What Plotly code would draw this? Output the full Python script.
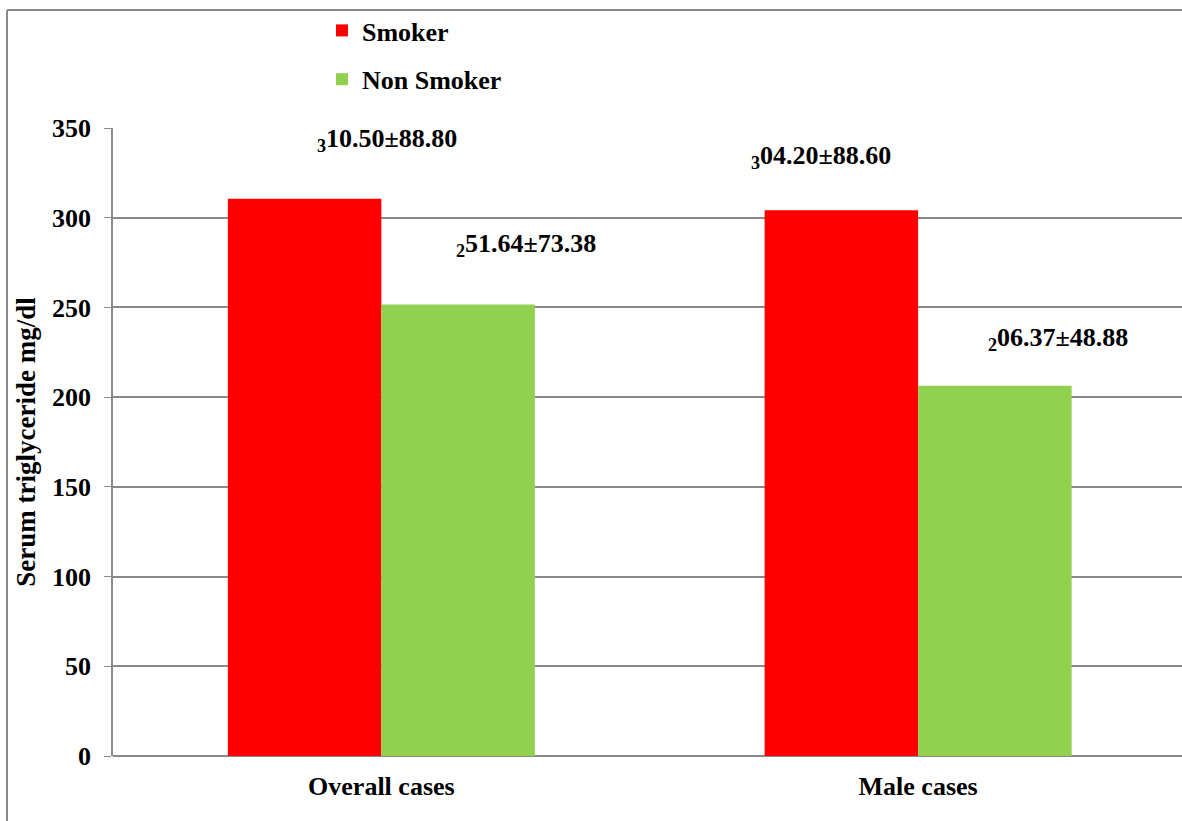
import plotly.graph_objects as go

# Serum triglyceride (mg/dl): mean and SD by smoking status
categories = ["Overall cases", "Male cases"]
smoker_mean = [310.50, 304.20]
smoker_sd = [88.80, 88.60]
nonsmoker_mean = [251.64, 206.37]
nonsmoker_sd = [73.38, 48.88]
y_ticks = [0, 50, 100, 150, 200, 250, 300, 350]

FONT = "Liberation Serif, Times New Roman, serif"
GRID = "#8a8a8a"
FS = 26

W, H = 1182, 821
ML, MR, MT, MB = 113, 0, 128, 65
PW, PH = W - ML - MR, H - MT - MB


def label(mean, sd):
    s = f"{mean:.2f}"
    return f"<sub>{s[0]}</sub>{s[1:]}±{sd:.2f}"


fig = go.Figure()
fig.add_trace(go.Bar(name="Smoker", x=categories, y=smoker_mean,
                     marker=dict(color="#ff0000", line=dict(width=0)),
                     legendgroup="a"))
fig.add_trace(go.Bar(name="Non Smoker", x=categories, y=nonsmoker_mean,
                     marker=dict(color="#92d050", line=dict(width=0)),
                     legendgroup="b"))

# value labels (pixel offsets from each bar's top centre)
offsets = [
    (0, -0.5, smoker_mean[0], smoker_sd[0], 82, 59),
    (0, 0.5, nonsmoker_mean[0], nonsmoker_sd[0], 68, 59),
    (1, -0.5, smoker_mean[1], smoker_sd[1], -20, 53),
    (1, 0.5, nonsmoker_mean[1], nonsmoker_sd[1], 63, 47),
]
bar_w = 153.5
for ci, side, m, sd, dx, dy in offsets:
    fig.add_annotation(x=categories[ci], y=m, xref="x", yref="y",
                       text=label(m, sd), showarrow=False,
                       xshift=side * bar_w + dx, yshift=dy,
                       font=dict(family=FONT, size=FS, color="black",
                                 weight="bold"))

# outer frame (left and top edges)
fx = (7 - ML) / PW
fy = (H - MB - 10) / PH
fig.add_shape(type="line", xref="paper", yref="paper", x0=fx, x1=fx,
              y0=fy, y1=-0.2, line=dict(color="#8c8c8c", width=2))
fig.add_shape(type="line", xref="paper", yref="paper", x0=fx, x1=1.1,
              y0=fy, y1=fy, line=dict(color="#8c8c8c", width=2))

fig.update_layout(
    width=W, height=H,
    margin=dict(l=ML, r=MR, t=MT, b=MB, pad=0),
    paper_bgcolor="white", plot_bgcolor="white",
    barmode="group", bargap=0.428, bargroupgap=0,
    font=dict(family=FONT, size=FS, color="black"),
    showlegend=True,
    legend=dict(x=(322 - ML) / PW, y=(H - MB - 7) / PH,
                xanchor="left", yanchor="top",
                font=dict(family=FONT, size=FS, color="black", weight="bold"),
                tracegroupgap=12, itemwidth=30,
                bgcolor="rgba(0,0,0,0)"),
    xaxis=dict(range=[-0.5, 1 + (W - 918) / 537], showline=False,
               showgrid=False, ticks="", zeroline=False,
               tickfont=dict(family=FONT, size=FS, weight="bold"),
               ticklabelstandoff=12),
    yaxis=dict(range=[0, 350], tickvals=y_ticks, showgrid=True,
               gridcolor=GRID, gridwidth=1.5, showline=True,
               linecolor=GRID, linewidth=1.5, ticks="outside", ticklen=7,
               tickcolor=GRID, zeroline=True, zerolinecolor=GRID,
               zerolinewidth=2,
               tickfont=dict(family=FONT, size=FS, weight="bold"),
               ticklabelstandoff=8,
               title=dict(text="Serum triglyceride mg/dl", standoff=9,
                          font=dict(family=FONT, size=27, weight="bold"))),
)

fig.write_html("out.html")
